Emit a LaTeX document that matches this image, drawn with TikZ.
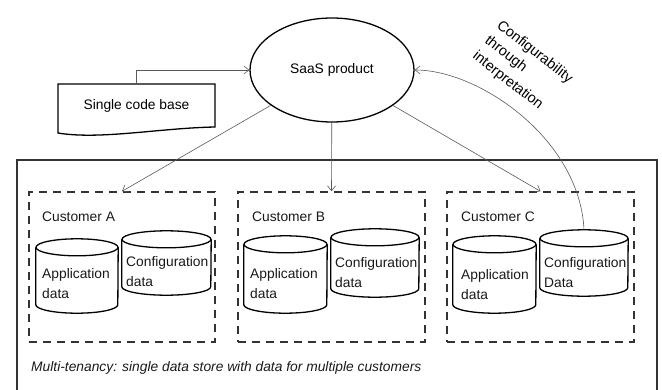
\documentclass[tikz,border=0pt]{standalone}
\usepackage{fontspec}
\setmainfont{Liberation Sans}
\usetikzlibrary{shapes.geometric,arrows.meta,calc}
\newcommand\dbcyl[2]{%
  \draw[cylline] ($(#1.north west)+(0,-8.5pt)$) -- ($(#1.south west)+(0,8.5pt)$)
    arc[start angle=180,end angle=360,x radius=#2pt,y radius=8.5pt]
    -- ($(#1.north east)+(0,-8.5pt)$);
  \draw[cylline] ($(#1.north)+(0,-8.5pt)$) ellipse[x radius=#2pt,y radius=8.5pt];}
\begin{document}
\begin{tikzpicture}[x=1pt,y=-1pt,
  font=\fontsize{13.8}{20}\selectfont,
  conn/.style={draw=black!65, line width=0.6pt, -{Straight Barb[length=5pt,width=8pt]}},
  custbox/.style={draw=black!80, line width=1.4pt, dash pattern=on 8pt off 6pt,
    minimum width=187pt, minimum height=150pt, inner sep=0},
  cylbox/.style={inner sep=0, draw=none},
  cylline/.style={draw=black, line width=1.3pt},
  lbl/.style={inner sep=0, anchor=west, align=left, text=black!90},
  docline/.style={draw=black, line width=1.3pt}]
\useasboundingbox (0,0) rectangle (662,389);

% outer container
\draw[line width=1.6pt, draw=black!80] (17,392) -- (17,160) -- (657,160) -- (657,392);

% SaaS product
\node[ellipse, draw, line width=1.3pt, minimum width=164pt, minimum height=104pt, inner sep=0] (saas) at (332,70) {SaaS product};

% single code base (document shape)
\node[inner sep=0, minimum width=157pt, minimum height=44pt] (code) at (136.5,106) {Single code base};
\draw[docline] (58,133) -- (58,84) -- (215,84) -- (215,127)
  .. controls (160,128) and (100,140) .. (58,133) -- cycle;
\draw[conn] (code.north) |- (saas.west);

% customers
\node[custbox, minimum width=186pt] (custA) at (122,267) {};
\node[custbox] (custB) at (331.5,267) {};
\node[custbox] (custC) at (540.5,267) {};
\node[lbl] (labA) at (42,217) {Customer A};
\node[lbl] (labB) at (252,217) {Customer B};
\node[lbl] (labC) at (461,217) {Customer C};

% cylinders
\node[cylbox, minimum width=82pt, minimum height=74pt] (appA) at (77,276) {}; \dbcyl{appA}{41}
\node[cylbox, minimum width=89pt, minimum height=64pt] (cfgA) at (166.5,263) {}; \dbcyl{cfgA}{44.5}
\node[cylbox, minimum width=83pt, minimum height=77pt] (appB) at (285.5,274.5) {}; \dbcyl{appB}{41.5}
\node[cylbox, minimum width=88pt, minimum height=68pt] (cfgB) at (375,263) {}; \dbcyl{cfgB}{44}
\node[cylbox, minimum width=83pt, minimum height=77pt] (appC) at (494.5,274.5) {}; \dbcyl{appC}{41.5}
\node[cylbox, minimum width=88pt, minimum height=66pt] (cfgC) at (584,263) {}; \dbcyl{cfgC}{44}

\node[lbl] (tappA) at (42,284) {Application\\data};
\node[lbl] (tcfgA) at (126,272) {Configuration\\data};
\node[lbl] (tappB) at (250,284) {Application\\data};
\node[lbl] (tcfgB) at (335,273) {Configuration\\data};
\node[lbl] (tappC) at (461,285) {Application\\data};
\node[lbl] (tcfgC) at (544,273) {Configuration\\Data};

% caption
\node[lbl, font=\fontsize{13.8}{20}\selectfont\itshape] (cap) at (31,368) {Multi-tenancy: single data store with data for multiple customers};

% connectors
\draw[conn] (saas) -- (custA.north);
\draw[conn] (saas) -- (custB.north);
\draw[conn] (saas) -- (custC.north);
\draw[conn] (cfgC.north) .. controls (580,140) and (480,70) .. (saas.east);

\node[rotate=-38, align=left, anchor=north west, inner sep=0,
  font=\fontsize{14.5}{19.5}\selectfont] (cfglbl) at (502.5,18.5) {Configurability\\through\\interpretation};
\end{tikzpicture}
\end{document}
